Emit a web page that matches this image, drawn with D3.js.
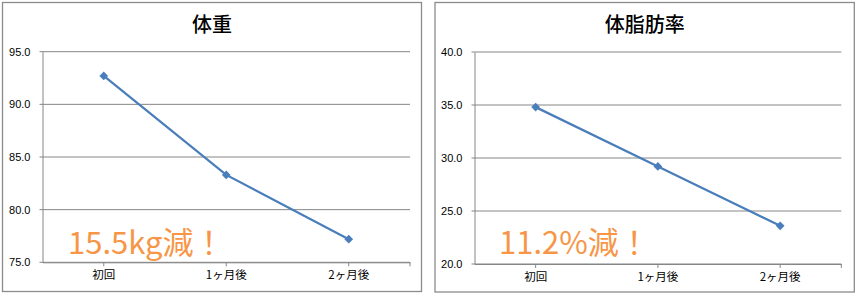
<!DOCTYPE html>
<html>
<head>
<meta charset="utf-8">
<script src="https://cdn.jsdelivr.net/npm/d3@7"></script>
<style>
    html, body { margin: 0; padding: 0; background: #fff; }
    svg { display: block; }
</style>
</head>
<body>
<svg id="chart" width="858" height="295"></svg>
<script>
;(function (win) {

    "use strict";

    // データ
    var categories = ["初回", "1ヶ月後", "2ヶ月後"];
    var weightValues = [92.7, 83.3, 77.2];
    var fatValues = [34.8, 29.2, 23.6];
    var weightTicks = [75, 80, 85, 90, 95];
    var fatTicks = [20, 25, 30, 35, 40];
    var titles = ["体重", "体脂肪率"];
    var notes = ["15.5kg減！", "11.2%減！"];

    // 配置
    var _config = {
        lineColor: "#4a7ebb",
        gridColor: "#868686",
        frameColor: "#8c8c8c",
        noteColor: "#f79646",
        jpFont: "'Noto Sans CJK JP', sans-serif",
        numFont: "'Liberation Sans', Arial, sans-serif"
    };

    var _tool = {
        // グラフ1枚を描く
        drawChart: function (svg, opt) {
            var g = svg.append("g").attr("class", "chart");

            // 外枠
            g.append("rect")
                .attr("x", opt.frame.x)
                .attr("y", opt.frame.y)
                .attr("width", opt.frame.w)
                .attr("height", opt.frame.h)
                .attr("fill", "#fff")
                .attr("stroke", _config.frameColor)
                .attr("stroke-width", 1.3);

            // タイトル
            g.append("text")
                .attr("x", opt.frame.x + opt.frame.w / 2)
                .attr("y", 32)
                .attr("text-anchor", "middle")
                .attr("font-family", _config.jpFont)
                .attr("font-size", "20px")
                .attr("font-weight", 500)
                .attr("fill", "#000")
                .text(opt.title);

            var x = d3.scaleBand()
                .domain(categories)
                .range([opt.plot.left, opt.plot.right]);

            var y = d3.scaleLinear()
                .domain(d3.extent(opt.ticks))
                .range([opt.plot.bottom, opt.plot.top]);

            // 目盛線
            g.append("g")
                .selectAll("line")
                .data(opt.ticks)
                .enter()
                .append("line")
                .attr("x1", opt.plot.left - 3)
                .attr("x2", opt.plot.right)
                .attr("y1", function (d) { return y(d); })
                .attr("y2", function (d) { return y(d); })
                .attr("stroke", _config.gridColor)
                .attr("stroke-width", 1);

            // 縦軸
            var yAxis = d3.axisLeft(y)
                .tickValues(opt.ticks)
                .tickFormat(d3.format(".1f"))
                .tickSize(0)
                .tickPadding(12);

            var ya = g.append("g")
                .attr("transform", "translate(" + opt.plot.left + ",0)")
                .call(yAxis);
            ya.select(".domain").attr("stroke", _config.gridColor);
            ya.selectAll("text")
                .attr("font-family", _config.numFont)
                .attr("font-size", "11px")
                .attr("fill", "#000");

            // 横軸
            var xAxis = d3.axisBottom(x)
                .tickSize(4)
                .tickSizeOuter(0)
                .tickPadding(5);

            var xa = g.append("g")
                .attr("transform", "translate(0," + opt.plot.bottom + ")")
                .call(xAxis);
            xa.select(".domain").attr("stroke", _config.gridColor);
            xa.selectAll(".tick line").attr("stroke", _config.gridColor);
            xa.selectAll("text")
                .attr("font-family", _config.jpFont)
                .attr("font-size", "11.5px")
                .attr("fill", "#000");

            // 右端の目盛
            xa.append("line")
                .attr("x1", opt.plot.right)
                .attr("x2", opt.plot.right)
                .attr("y1", 0)
                .attr("y2", 4)
                .attr("stroke", _config.gridColor);

            var cx = function (d, i) { return x(categories[i]) + x.bandwidth() / 2; };

            // 折れ線
            var line = d3.line()
                .x(cx)
                .y(function (d) { return y(d); });

            g.append("path")
                .datum(opt.values)
                .attr("d", line)
                .attr("fill", "none")
                .attr("stroke", _config.lineColor)
                .attr("stroke-width", 2.25);

            // マーカー
            g.append("g")
                .selectAll("path")
                .data(opt.values)
                .enter()
                .append("path")
                .attr("d", d3.symbol().type(d3.symbolSquare).size(38))
                .attr("transform", function (d, i) {
                    return "translate(" + cx(d, i) + "," + y(d) + ") rotate(45)";
                })
                .attr("fill", _config.lineColor);

            // 注記
            g.append("text")
                .attr("x", opt.note.x)
                .attr("y", opt.note.y)
                .attr("font-family", _config.jpFont)
                .attr("font-size", "31px")
                .attr("fill", _config.noteColor)
                .text(opt.note.text);
        }
    };

    var svg = d3.select("#chart");

    _tool.drawChart(svg, {
        frame: {x: 2.5, y: 2.5, w: 419, h: 289},
        plot: {left: 42.5, right: 410, top: 51.7, bottom: 262.3},
        ticks: weightTicks,
        values: weightValues,
        title: titles[0],
        note: {x: 68, y: 254, text: notes[0]}
    });

    _tool.drawChart(svg, {
        frame: {x: 435, y: 2.5, w: 419.3, h: 289.5},
        plot: {left: 474.5, right: 841.3, top: 52, bottom: 264},
        ticks: fatTicks,
        values: fatValues,
        title: titles[1],
        note: {x: 499, y: 254, text: notes[1]}
    });

})(window);
</script>
</body>
</html>
